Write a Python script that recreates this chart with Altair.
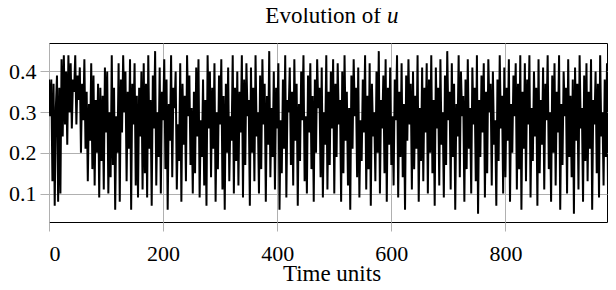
import altair as alt
import pandas as pd

# ---- data (values of u, one every 2 time units) ----
seg1 = [0.38,0.29,0.38,0.13,0.37,0.07,0.31,0.39,0.08,0.36,0.10,0.43,0.24,0.44,0.27,0.40,0.22,0.44,0.30,0.42,
        0.26,0.38,0.35,0.44,0.27,0.39,0.33,0.41,0.20,0.37,0.28,0.43,0.21,0.35,0.13,0.32,0.23,0.42,0.16,0.39,
        0.12,0.33,0.20,0.37,0.09,0.36,0.18,0.34,0.11,0.41,0.25,0.40,0.10,0.30,0.14,0.44,0.17,0.36,0.06,0.29,
        0.20,0.42,0.08,0.38,0.25,0.44,0.30,0.40,0.13,0.35,0.21,0.43,0.06,0.37,0.27,0.42,0.12,0.34,0.09,0.36,
        0.24,0.40,0.11]
seg2 = [0.42,0.15,0.37,0.09,0.44,0.21,0.33,0.07,0.39,0.26,0.45,0.12,0.30,0.19,0.41,0.10,0.35,0.28,0.43,0.16,
        0.38,0.06,0.32,0.23,0.44,0.14,0.36,0.31,0.40,0.11,0.27,0.18,0.42,0.08,0.37,0.22,0.34,0.13,0.44,0.29,
        0.39,0.17,0.31,0.10,0.35,0.15,0.41,0.24,0.43,0.09,0.28,0.19,0.38,0.12,0.33,0.07,0.44,0.26,0.40,0.14,
        0.36,0.21,0.42,0.08,0.30,0.16,0.39,0.27,0.43,0.11,0.34,0.06,0.37,0.20,0.41,0.13,0.29,0.23,0.44,0.10,
        0.36,0.18,0.40]
seg3 = [0.12,0.35,0.25,0.44,0.09,0.38,0.17,0.42,0.29,0.33,0.07,0.41,0.20,0.36,0.13,0.44,0.24,0.30,0.10,0.39,
        0.16,0.43,0.27,0.37,0.08,0.34,0.22,0.45,0.14,0.31,0.19,0.40,0.11,0.36,0.26,0.42,0.06,0.28,0.15,0.38,
        0.21,0.44,0.09,0.33,0.30,0.41,0.17,0.35,0.12,0.43,0.23,0.37,0.07,0.32,0.18,0.40,0.28,0.44,0.13,0.29,
        0.10,0.39,0.25,0.42,0.16,0.34,0.08,0.38,0.20,0.43,0.31,0.36,0.14,0.41,0.09,0.30,0.22,0.44,0.11,0.35,
        0.17,0.40,0.26]
seg4 = [0.43,0.10,0.37,0.19,0.42,0.27,0.33,0.08,0.40,0.15,0.44,0.23,0.35,0.12,0.31,0.06,0.39,0.21,0.43,0.29,
        0.36,0.14,0.41,0.09,0.28,0.18,0.38,0.25,0.44,0.11,0.34,0.16,0.42,0.07,0.37,0.24,0.30,0.13,0.40,0.20,
        0.45,0.10,0.33,0.26,0.39,0.15,0.43,0.08,0.36,0.22,0.41,0.17,0.29,0.12,0.38,0.28,0.44,0.09,0.35,0.19,
        0.42,0.14,0.32,0.06,0.39,0.23,0.43,0.27,0.37,0.11,0.40,0.16,0.34,0.21,0.44,0.08,0.31,0.18,0.41,0.13,
        0.36,0.25,0.42]
seg5 = [0.10,0.38,0.20,0.44,0.15,0.33,0.07,0.41,0.26,0.36,0.12,0.43,0.22,0.30,0.09,0.39,0.17,0.45,0.28,0.35,
        0.11,0.42,0.19,0.37,0.06,0.32,0.24,0.44,0.14,0.40,0.29,0.34,0.08,0.38,0.16,0.43,0.21,0.31,0.10,0.41,
        0.27,0.36,0.13,0.44,0.05,0.33,0.19,0.39,0.25,0.42,0.09,0.35,0.15,0.43,0.30,0.37,0.12,0.40,0.22,0.28,
        0.07,0.38,0.18,0.44,0.26,0.34,0.10,0.41,0.14,0.36,0.23,0.43,0.08,0.32,0.20,0.39,0.29,0.42,0.11,0.37,
        0.16,0.44,0.06]
seg6 = [0.35,0.21,0.42,0.13,0.38,0.27,0.44,0.09,0.31,0.18,0.40,0.24,0.36,0.07,0.43,0.15,0.33,0.22,0.41,0.11,
        0.37,0.28,0.44,0.16,0.30,0.08,0.39,0.20,0.42,0.12,0.35,0.25,0.44,0.06,0.32,0.17,0.40,0.29,0.36,0.10,
        0.43,0.19,0.34,0.14,0.38,0.05,0.41,0.23,0.37,0.11,0.44,0.26,0.31,0.08,0.39,0.18,0.42,0.13,0.35,0.21,
        0.43,0.06,0.33,0.27,0.40,0.15,0.37,0.09,0.44,0.24,0.30,0.12,0.38,0.19,0.42,0.07,0.34,0.22,0.39,0.14,
        0.36,0.10,0.33]

time_step = 2
x_ticks = [0, 200, 400, 600, 800]
y_ticks = [0.1, 0.2, 0.3, 0.4]
x_domain = [0, 978]
y_domain = [0.03, 0.47]
title_main = "Evolution of"
title_var = "u"
x_title = "Time units"

u = seg1 + seg2 + seg3 + seg4 + seg5 + seg6
df = pd.DataFrame({"t": [i * time_step for i in range(len(u))], "u": u})

FONT = "Liberation Serif"
W, H = 558, 179

line = alt.Chart(df).mark_line(color="black", strokeWidth=2, clip=True).encode(
    x=alt.X("t:Q", scale=alt.Scale(domain=x_domain, nice=False, zero=False),
            axis=alt.Axis(values=x_ticks, title=None, format="d")),
    y=alt.Y("u:Q", scale=alt.Scale(domain=y_domain, nice=False, zero=False),
            axis=alt.Axis(values=y_ticks, title=None, format=".1f")),
)

t1 = alt.Chart(pd.DataFrame({"s": [title_main]})).mark_text(
    font=FONT, fontSize=23, align="right", baseline="alphabetic", color="black"
).encode(text="s:N", x=alt.value(332), y=alt.value(-20))

t2 = alt.Chart(pd.DataFrame({"s": [title_var]})).mark_text(
    font=FONT, fontSize=23, fontStyle="italic", align="left", baseline="alphabetic", color="black"
).encode(text="s:N", x=alt.value(338), y=alt.value(-20))

t3 = alt.Chart(pd.DataFrame({"s": [x_title]})).mark_text(
    font=FONT, fontSize=23, align="center", baseline="alphabetic", color="black"
).encode(text="s:N", x=alt.value(283), y=alt.value(238))

chart = alt.layer(line, t1, t2, t3).properties(
    width=W, height=H,
    autosize=alt.AutoSizeParams(type="none"),
    padding={"left": 41, "top": 35, "right": 1, "bottom": 60},
).configure_view(
    stroke="black", strokeWidth=1
).configure_axis(
    domain=False,
    grid=True, gridColor="#b0b0b0", gridWidth=1,
    tickColor="#b0b0b0", tickSize=9, tickWidth=1,
    labelFont=FONT, labelFontSize=22, labelColor="black",
).configure_axisX(
    labelPadding=12
).configure_axisY(
    labelPadding=4
)

chart.save("out.html", embed_options={"renderer": "svg", "actions": False})
